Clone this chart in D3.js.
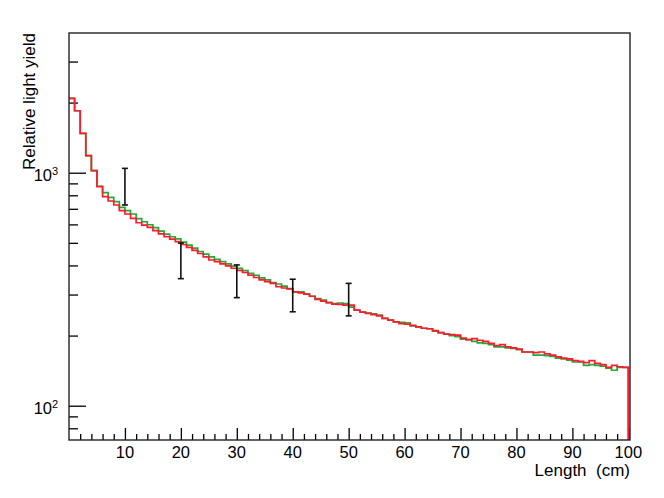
<!DOCTYPE html>
<html><head><meta charset="utf-8">
<script src="https://cdn.jsdelivr.net/npm/d3@7"></script>
<style>
body{margin:0;background:#fff}
svg{display:block}
text{font-family:"Liberation Sans",Arial,Helvetica,sans-serif;fill:#000;white-space:pre}
</style>
</head><body><svg id="c" width="664" height="498"></svg>
<script>
// ---- data ----
const binStart = 0;      // cm, first bin low edge (1 cm bins)
const redValues = [2086,1845,1476,1183,1020,871,789,756,727,687,
  665,637,610,596,583,564,546,531,519,506,
  492,478,464,450,435,422,415,406,398,389,
  381,373,363,355,347,341,335,324,320,317,
  308,305,301,295,286,281,277,273,272,270,
  270,257,252,249,246,243,237,233,229,225,
  224,221,218,215,214,210,206,203,202,201,
  195,192,194,191,189,185,181,183,179,177,
  175,170,170,169,170,167,165,162,160,159,
  156,155,153,156,152,150,146,149,147,146];
const greenValues = [2086,1845,1476,1183,1020,875,821,784,751,710,
  687,665,635,616,598,581,562,545,531,520,
  504,489,475,459,447,435,425,415,406,397,
  389,380,370,363,354,347,338,333,326,318,
  308,308,301,295,288,284,277,274,276,274,
  265,257,252,250,248,245,237,233,229,228,
  227,220,218,215,214,209,206,203,200,198,
  193,192,189,186,185,183,179,179,177,176,
  174,170,170,165,165,164,163,160,159,157,
  154,154,149,150,149,148,145,142,146,146];
const errX = [10,20,30,40,50];
const errLow = [727,351,291,253,243];
const errHigh = [1044,499,402,349,335];
const xMajorTicks = [10,20,30,40,50,60,70,80,90,100];
const xMinorTicks = [2,4,6,8,12,14,16,18,22,24,26,28,32,34,36,38,42,44,46,48,52,54,56,58,62,64,66,68,72,74,76,78,82,84,86,88,92,94,96,98];
const yMajorTicks = [100,1000];
const yMajorExp = ["2","3"];
const yMinorTicks = [80,90,200,300,400,500,600,700,800,900,2000,3000];
const xTitle = "Length\u00a0\u00a0(cm)";
const yTitle = "Relative light yield";

// ---- layout ----
const L = 69, R = 630, T = 33, B = 440;
const svg = d3.select("#c");
const x = d3.scaleLinear().domain([0, 100.3]).range([L, R]);
const y = d3.scaleLog().domain([71.26, 3978]).range([B, T]);

svg.append("defs").append("clipPath").attr("id","clip")
  .append("rect").attr("x",L).attr("y",T).attr("width",R-L).attr("height",B-T);

// axes ticks (inside the frame)
const gx = svg.append("g").attr("transform",`translate(0,${B})`);
gx.call(d3.axisBottom(x).tickValues(xMajorTicks).tickSize(-12).tickFormat(""));
gx.append("g").call(d3.axisBottom(x).tickValues(xMinorTicks).tickSize(-6).tickFormat(""));
const gy = svg.append("g").attr("transform",`translate(${L},0)`);
gy.call(d3.axisLeft(y).tickValues(yMajorTicks).tickSize(-17).tickFormat(""));
gy.append("g").call(d3.axisLeft(y).tickValues(yMinorTicks).tickSize(-9).tickFormat(""));
svg.selectAll(".domain").remove();
svg.selectAll(".tick line").attr("stroke","#000").attr("stroke-width",1.3);

// tick labels
svg.append("g").selectAll("text").data(xMajorTicks).join("text")
  .attr("x", d => x(d)).attr("y", B + 18).attr("text-anchor","middle")
  .attr("font-size",16.5).text(d => d);
const yl = svg.append("g").selectAll("g").data(yMajorTicks).join("g");
yl.append("text").attr("x", 52).attr("y", d => y(d) + 8.5).attr("text-anchor","end")
  .attr("font-size",16.5).text("10");
yl.append("text").attr("x", 52).attr("y", d => y(d) + 2.5).attr("text-anchor","start")
  .attr("font-size",11).text((d,i) => yMajorExp[i]);

// titles
svg.append("text").attr("x", R).attr("y", B + 36).attr("text-anchor","end")
  .attr("font-size",17).text(xTitle);
svg.append("text").attr("transform",`translate(35,${T}) rotate(-90)`)
  .attr("text-anchor","end").attr("font-size",17).text(yTitle);

// histograms
function histPath(vals){
  const pts = vals.map((v,i) => [binStart + i, v]);
  pts.push([binStart + vals.length, vals[vals.length-1]]);
  pts.push([binStart + vals.length, y.domain()[0] * 0.5]);
  return d3.line().x(d => x(d[0])).y(d => y(Math.max(d[1], 1))).curve(d3.curveStepAfter)(pts);
}
const gh = svg.append("g").attr("clip-path","url(#clip)");
gh.append("path").attr("d", histPath(greenValues)).attr("fill","none")
  .attr("stroke","#22aa33").attr("stroke-width",1.7);
gh.append("path").attr("d", histPath(redValues)).attr("fill","none")
  .attr("stroke","#ff1a2e").attr("stroke-width",1.7);

// error bars
const ge = svg.append("g").attr("stroke","#111").attr("stroke-width",1.6);
errX.forEach((xv,i) => {
  const cx = x(xv);
  ge.append("line").attr("x1",cx).attr("x2",cx).attr("y1",y(errLow[i])).attr("y2",y(errHigh[i]));
  ge.append("line").attr("x1",cx-3).attr("x2",cx+3).attr("y1",y(errLow[i])).attr("y2",y(errLow[i]));
  ge.append("line").attr("x1",cx-3).attr("x2",cx+3).attr("y1",y(errHigh[i])).attr("y2",y(errHigh[i]));
});

// frame
svg.append("rect").attr("x",L).attr("y",T).attr("width",R-L).attr("height",B-T)
  .attr("fill","none").attr("stroke","#222").attr("stroke-width",1.4);
</script>
</body></html>
